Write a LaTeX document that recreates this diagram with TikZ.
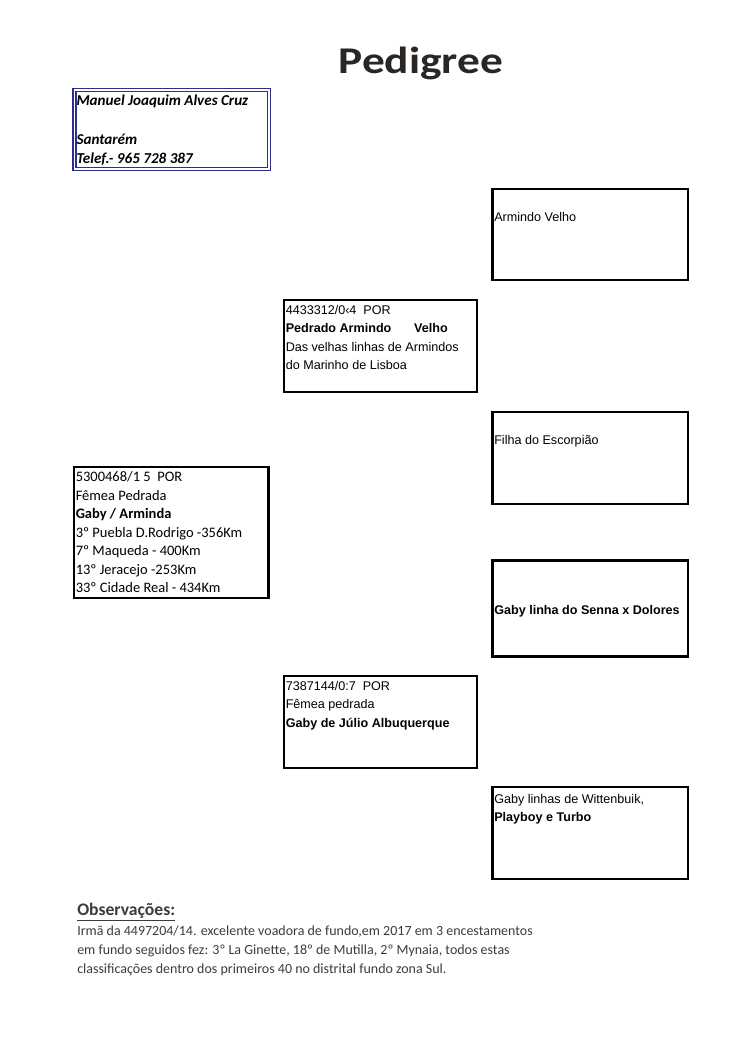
\documentclass[tikz,border=0pt]{standalone}
\usepackage{fontspec}
\usetikzlibrary{fit,positioning}
\newfontfamily\arialfont{Liberation Sans}
\newfontfamily\calibrifont{Carlito}
\definecolor{pgInk}{HTML}{000000}
\definecolor{pgTitle}{HTML}{2A2624}
\definecolor{pgNavy}{HTML}{2B2E8C}
\definecolor{pgNote}{HTML}{3C3C3C}
\tikzset{
  pg box/.style={draw=pgInk, line width=2.2pt, inner sep=0pt, outer sep=0pt},
  pg owner box/.style={draw=pgNavy, line width=1pt, double=white,
    double distance=1.2pt, inner sep=0pt, outer sep=0pt},
  pg arial/.style={inner sep=0pt, align=left, text=pgInk,
    font=\arialfont\fontsize{10}{14.7}\selectfont},
  pg calibri/.style={inner sep=0pt, align=left, text=pgInk,
    font=\calibrifont\fontsize{11.5}{14.7}\selectfont},
  pg title/.style={inner sep=0pt, text=pgTitle,
    font=\calibrifont\bfseries\fontsize{30}{36}\selectfont},
  pg note head/.style={inner sep=0pt, text=pgNote,
    font=\calibrifont\bfseries\fontsize{14}{17}\selectfont},
  pg note/.style={inner sep=0pt, align=left, text=pgNote,
    font=\calibrifont\fontsize{11.1}{14.8}\selectfont}
}

\begin{document}
\begin{tikzpicture}[x=0.794pt,y=-0.794pt]
  \fill[white] (0,0) rectangle (750,1061);
  \useasboundingbox (0,0) rectangle (750,1061);

  \node[pg title, anchor=base, xscale=1.2] (title) at (421,74) {Pedigree};

  \node[pg owner box, fit={(74.5,90) (269,169)}] (owner) {};
  \node[pg calibri, font=\calibrifont\bfseries\itshape\fontsize{12}{15}\selectfont,
    below right=3.8pt and 1.4pt of owner.north west] (ownerText)
    {Manuel Joaquim Alves Cruz\\[16pt]Santarém\\Telef.- 965 728 387};

  \node[pg box, fit={(74,467) (268.5,598)}] (pigeon) {};
  \node[pg calibri, below right=3.4pt and 1.2pt of pigeon.north west] (pigeonText)
    {5300468/1 5\ \ POR\\Fêmea Pedrada\\\textbf{Gaby / Arminda}\\
     3º Puebla D.Rodrigo -356Km\\7º Maqueda - 400Km\\13º Jeracejo -253Km\\
     33º Cidade Real - 434Km};

  \node[pg box, fit={(284,300) (477,392)}] (sire) {};
  \node[pg arial, below right=3.9pt and 1.2pt of sire.north west] (sireText)
    {4433312/0‹4\ \ POR\\\textbf{Pedrado Armindo\hspace{18pt}Velho}\\
     Das velhas linhas de Armindos\\do Marinho de Lisboa};

  \node[pg box, fit={(284,676) (477,768)}] (dam) {};
  \node[pg arial, below right=3.9pt and 1.2pt of dam.north west] (damText)
    {7387144/0:7\ \ POR\\Fêmea pedrada\\\textbf{Gaby de Júlio Albuquerque}};

  \node[pg box, fit={(492.5,189) (688,280)}] (sireSire) {};
  \node[pg arial, below right=18pt and 1.2pt of sireSire.north west] (sireSireText)
    {Armindo Velho};

  \node[pg box, fit={(492.5,412) (688,504)}] (sireDam) {};
  \node[pg arial, below right=18.6pt and 1.2pt of sireDam.north west] (sireDamText)
    {Filha do Escorpião};

  \node[pg box, fit={(492.5,560.5) (688,656.5)}] (damSire) {};
  \node[pg arial, below right=35.3pt and 1.2pt of damSire.north west] (damSireText)
    {\textbf{Gaby linha do Senna x Dolores}};

  \node[pg box, fit={(492.5,787) (688,879)}] (damDam) {};
  \node[pg arial, font=\arialfont\fontsize{10}{14}\selectfont,
    below right=5.9pt and 1.2pt of damDam.north west] (damDamText)
    {Gaby linhas de Wittenbuik,\\\textbf{Playboy e Turbo}};

  \node[pg note head, anchor=base west] (noteHead) at (77,915.5)
    {\underline{Observações:}};
  \node[pg note, anchor=north west] (noteText) at (77,926)
    {Irmã da 4497204/14. excelente voadora de fundo,em 2017 em 3 encestamentos\\
     em fundo seguidos fez: 3º La Ginette, 18º de Mutilla, 2º Mynaia, todos estas\\
     classificações dentro dos primeiros 40 no distrital fundo zona Sul.};
\end{tikzpicture}
\end{document}
